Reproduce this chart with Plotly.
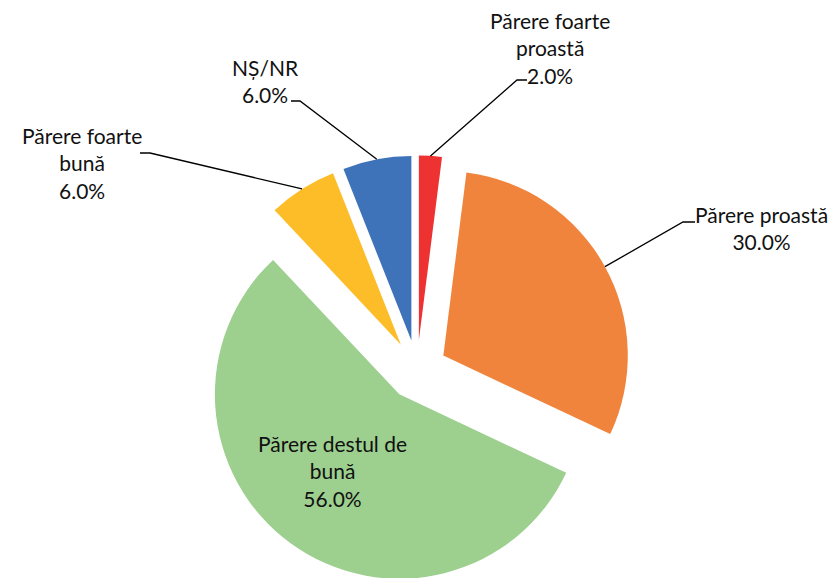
import math
import plotly.graph_objects as go

# ---- data ----
labels = ["Părere foarte proastă", "Părere proastă", "Părere destul de bună",
          "Părere foarte bună", "NȘ/NR"]
label_text = ["Părere foarte<br>proastă", "Părere proastă", "Părere destul de<br>bună",
              "Părere foarte<br>bună", "NȘ/NR"]
values = [2, 30, 56, 6, 6]

# ---- style / layout ----
colors = ["#EE3131", "#F0843C", "#9DCF8F", "#FDBD28", "#3E73BA"]
W, H = 832, 590          # page window is 578 tall; the pie bottom is cut as in the original
PULL = 0.163
DOM_X = [0.1, 0.9024]
DOM_Y = [0.0093, 0.0093 + 429.0 / 590]
FONT = "Lato"
FSIZE = 21
TXT = "#111111"

# label block centres (px) and leader elbow points (px); None = inside label
label_pos = [(550, 48), (761, 228), (332, 471), (82, 163), (265, 81)]
elbows = [((517, 80), (527, 80)),
          ((683, 222), (695, 222)),
          None,
          ((150, 153), (140, 153)),
          ((300, 101), (291, 101))]

fig = go.Figure(go.Pie(
    labels=labels, values=values, sort=False, direction="clockwise", rotation=0,
    pull=[PULL] * len(values), marker=dict(colors=colors, line=dict(width=0)),
    textinfo="none", hoverinfo="label+percent", showlegend=False,
    domain=dict(x=DOM_X, y=DOM_Y),
))

# pie geometry (same as plotly's scaling) to anchor the leader lines
box_w = W * (DOM_X[1] - DOM_X[0])
box_h = H * (DOM_Y[1] - DOM_Y[0])
r = min(box_w, box_h) / 2 / (1 + PULL)
cx = W * (DOM_X[0] + DOM_X[1]) / 2
cy = H * (1 - DOM_Y[0]) - box_h / 2
total = sum(values)

def px(x, y):
    return x / W, 1 - y / H

annotations = []
shapes = []
cum = 0
for i, v in enumerate(values):
    mid = (cum + v / 2) / total * 2 * math.pi
    cum += v
    pct = f"{v / total * 100:.1f}%"
    lx, ly = label_pos[i]
    x, y = px(lx, ly)
    annotations.append(dict(
        x=x, y=y, xref="paper", yref="paper", xanchor="center", yanchor="middle",
        text=f"{label_text[i]}<br>{pct}", showarrow=False, align="center",
        font=dict(family=FONT, size=FSIZE, color=TXT)))
    if elbows[i] is not None:
        d = r * (1 + PULL)
        ax = cx + d * math.sin(mid)
        ay = cy - d * math.cos(mid)
        (ex, ey), (tx, ty) = elbows[i]
        shapes.append(dict(
            type="path", xref="paper", yref="paper",
            path=f"M {ax/W} {1-ay/H} L {ex/W} {1-ey/H} L {tx/W} {1-ty/H}",
            line=dict(color="black", width=1.3)))

fig.update_layout(
    width=W, height=H, margin=dict(l=0, r=0, t=0, b=0),
    paper_bgcolor="white", plot_bgcolor="white",
    annotations=annotations, shapes=shapes,
)

fig.write_html("out.html", config={"displayModeBar": False},
               post_script="document.body.style.margin='0';"
                           "document.body.style.overflow='hidden';"
                           "document.documentElement.style.overflow='hidden';")
